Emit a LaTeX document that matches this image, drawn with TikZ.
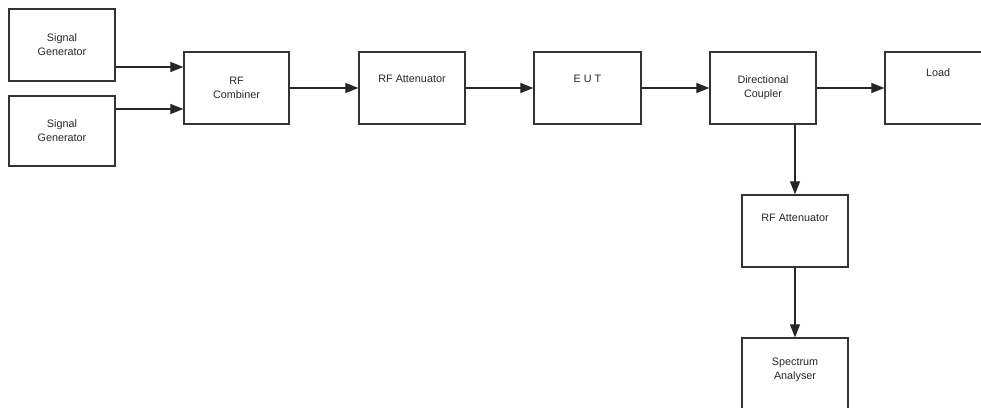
\documentclass[tikz,border=0pt]{standalone}
\usepackage{fontspec}
\setmainfont{Liberation Sans}
\usetikzlibrary{arrows.meta}
\begin{document}
\begin{tikzpicture}[x=1pt,y=-1pt,
  blk/.style={draw=black!80,line width=1.3pt,minimum width=106pt,minimum height=72pt,inner sep=0pt,align=center,font=\fontsize{10.8}{14}\selectfont,text=black!85},
  lbl/.style={inner sep=0pt,align=center,font=\fontsize{10.8}{14}\selectfont,text=black!85},
  arr/.style={draw=black!85,line width=1.2pt,-{Triangle[length=13pt,width=10pt]}}]
\useasboundingbox (0,0) rectangle (981,407);
\clip (0,0) rectangle (981,407);
\node[blk] (sg1) at (62,45) {Signal\\Generator};
\node[blk,minimum height=70pt] (sg2) at (62,131) {Signal\\Generator};
\node[blk,minimum width=105pt] (comb) at (236.5,88) {RF\\Combiner};
\node[blk] (att1) at (412,88) {};
\node[lbl] (att1t) at (412,79) {RF Attenuator};
\node[blk,minimum width=107pt] (eut) at (587.5,88) {};
\node[lbl] (eutt) at (587.5,79) {E U T};
\node[blk] (dc) at (763,88) {Directional\\Coupler};
\node[blk] (load) at (938,88) {};
\node[lbl] (loadt) at (938,73) {Load};
\node[blk] (att2) at (795,231) {};
\node[lbl] (att2t) at (795,218) {RF Attenuator};
\node[blk] (sa) at (795,374) {};
\node[lbl] (sat) at (795,370) {Spectrum\\Analyser};
\draw[arr] ([yshift=-22pt]sg1.east) -- ([yshift=-22pt]sg1.east -| comb.west);
\draw[arr] ([yshift=22pt]sg2.east) -- ([yshift=22pt]sg2.east -| comb.west);
\draw[arr] (comb.east) -- (att1.west);
\draw[arr] (att1.east) -- (eut.west);
\draw[arr] (eut.east) -- (dc.west);
\draw[arr] (dc.east) -- (load.west);
\draw[arr] (dc.south -| att2.north) -- (att2.north);
\draw[arr] (att2.south) -- (sa.north);
\end{tikzpicture}
\end{document}
